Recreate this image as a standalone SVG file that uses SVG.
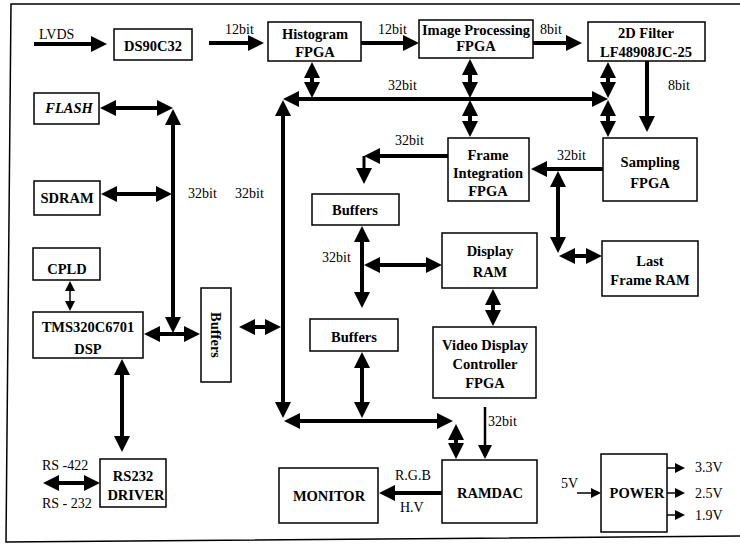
<svg xmlns="http://www.w3.org/2000/svg" width="740" height="547" viewBox="0 0 740 547">
<style>
.box{fill:#fff;stroke:#000;stroke-width:1.5}
.t{font-family:"Liberation Serif","Times New Roman",serif;font-weight:bold;font-size:14.5px;text-anchor:middle;fill:#000}
.l{font-family:"Liberation Serif","Times New Roman",serif;font-size:14px;fill:#000}
.w{fill:none;stroke:#000;stroke-width:4}
.md{fill:none;stroke:#000;stroke-width:2.5}
.th{fill:none;stroke:#000;stroke-width:1.5}
.b1{marker-end:url(#a)}
.b2{marker-start:url(#a);marker-end:url(#a)}
</style>
<defs>
<marker id="a" viewBox="0 0 16 16" refX="12" refY="8" markerWidth="16" markerHeight="16" markerUnits="userSpaceOnUse" orient="auto-start-reverse"><path d="M0,0 L16,8 L0,16 z" fill="#000"/></marker>
<marker id="m" viewBox="0 0 14 14" refX="11" refY="7" markerWidth="14" markerHeight="14" markerUnits="userSpaceOnUse" orient="auto-start-reverse"><path d="M0,0 L14,7 L0,14 z" fill="#000"/></marker>
<marker id="s" viewBox="0 0 10 10" refX="8" refY="5" markerWidth="10" markerHeight="10" markerUnits="userSpaceOnUse" orient="auto-start-reverse"><path d="M0,0 L10,5 L0,10 z" fill="#000"/></marker>
</defs>
<rect width="740" height="547" fill="#fff"/>
<path d="M740,4 H11 L6,542 L740,536" fill="none" stroke="#000" stroke-width="1.5"/>

<g id="connectors">
<path class="w b1" d="M34,44 H103"/>
<path class="w b1" d="M209,43 H260"/>
<path class="w b1" d="M361,43 H415"/>
<path class="w b1" d="M533,43 H578"/>
<path class="w b1" d="M647,61 V128"/>
<path class="w b2" d="M287,99 H604"/>
<path class="w b2" d="M283,104 V414"/>
<path class="w b2" d="M288,421 H449"/>
<path class="w b2" d="M312,66 V94"/>
<path class="w b2" d="M470,63 V94"/>
<path class="w b2" d="M470,104 V133"/>
<path class="w b2" d="M608,66 V94"/>
<path class="w b2" d="M608,104 V133"/>
<path class="w b1" d="M603,169 H535"/>
<path class="w b2" d="M558,175 V249"/>
<path class="w b2" d="M563,256 H598"/>
<path class="w b1" d="M448,156 H368"/>
<path class="b1" d="M364,156 V180" fill="none" stroke="#000" stroke-width="3"/>
<path class="w b2" d="M362,230 V304"/>
<path class="w b2" d="M368,265 H438"/>
<path class="w b2" d="M362,356 V414"/>
<path class="w b2" d="M456,428 V455"/>
<path class="w b2" d="M493,293 V322"/>
<path class="w b1" d="M442,493 H383"/>
<path class="w b2" d="M104,108 H169"/>
<path class="w b2" d="M173,113 V329"/>
<path class="w b2" d="M105,194 H168"/>
<path class="w b2" d="M148,334 H196"/>
<path class="w b2" d="M243,327 H277"/>
<path class="w b2" d="M122,363 V448"/>
<path class="w b2" d="M47,483 H96"/>
<path class="md" d="M485,407 V456" marker-end="url(#m)"/>
<path class="th" d="M70,283 V309" marker-start="url(#s)" marker-end="url(#s)"/>
<path class="th" d="M577,493 H599" marker-end="url(#s)"/>
<path class="th" d="M667,468 H683" marker-end="url(#s)"/>
<path class="th" d="M667,493 H683" marker-end="url(#s)"/>
<path class="th" d="M667,515 H683" marker-end="url(#s)"/>
<text class="l" x="39" y="39">LVDS</text>
<text class="l" x="225" y="34">12bit</text>
<text class="l" x="378" y="34">12bit</text>
<text class="l" x="540" y="34">8bit</text>
<text class="l" x="388" y="90">32bit</text>
<text class="l" x="668" y="90">8bit</text>
<text class="l" x="395" y="145">32bit</text>
<text class="l" x="557" y="160">32bit</text>
<text class="l" x="188" y="198">32bit</text>
<text class="l" x="235" y="198">32bit</text>
<text class="l" x="322" y="262">32bit</text>
<text class="l" x="488" y="426">32bit</text>
<text class="l" x="395" y="480">R.G.B</text>
<text class="l" x="400" y="512">H.V</text>
<text class="l" x="561" y="488">5V</text>
<text class="l" x="695" y="472">3.3V</text>
<text class="l" x="695" y="498">2.5V</text>
<text class="l" x="695" y="520">1.9V</text>
<text class="l" x="42" y="470">RS -422</text>
<text class="l" x="42" y="508">RS - 232</text>
</g>

<g id="ds90c32"><rect class="box" x="114" y="29" width="78" height="31"/><text class="t" x="153" y="51">DS90C32</text></g>
<g id="histogram"><rect class="box" x="268" y="22" width="93" height="39"/><text class="t" x="315" y="39">Histogram</text><text class="t" x="315" y="57">FPGA</text></g>
<g id="imageproc"><rect class="box" x="419" y="20" width="114" height="38"/><text class="t" x="476" y="35">Image Processing</text><text class="t" x="476" y="51">FPGA</text></g>
<g id="filter2d"><rect class="box" x="588" y="22" width="117" height="39"/><text class="t" x="646" y="38">2D Filter</text><text class="t" x="646" y="57">LF48908JC-25</text></g>
<g id="frameint"><rect class="box" x="448" y="138" width="81" height="63"/><text class="t" x="488" y="160">Frame</text><text class="t" x="488" y="178">Integration</text><text class="t" x="488" y="196">FPGA</text></g>
<g id="sampling"><rect class="box" x="603" y="138" width="94" height="63"/><text class="t" x="650" y="167">Sampling</text><text class="t" x="650" y="188">FPGA</text></g>
<g id="lastframe"><rect class="box" x="602" y="241" width="96" height="55"/><text class="t" x="650" y="266">Last</text><text class="t" x="650" y="285">Frame RAM</text></g>
<g id="displayram"><rect class="box" x="442" y="233" width="95" height="55"/><text class="t" x="490" y="256">Display</text><text class="t" x="490" y="277">RAM</text></g>
<g id="buffers1"><rect class="box" x="312" y="194" width="87" height="31"/><text class="t" x="355" y="215">Buffers</text></g>
<g id="buffers2"><rect class="box" x="310" y="319" width="88" height="32"/><text class="t" x="354" y="342">Buffers</text></g>
<g id="video"><rect class="box" x="433" y="327" width="103" height="71"/><text class="t" x="485" y="350">Video Display</text><text class="t" x="485" y="369">Controller</text><text class="t" x="485" y="388">FPGA</text></g>
<g id="ramdac"><rect class="box" x="442" y="460" width="95" height="63"/><text class="t" x="490" y="498">RAMDAC</text></g>
<g id="monitor"><rect class="box" x="279" y="468" width="99" height="55"/><text class="t" x="329" y="501">MONITOR</text></g>
<g id="power"><rect class="box" x="601" y="454" width="66" height="78"/><text class="t" x="637" y="498">POWER</text></g>
<g id="rs232"><rect class="box" x="100" y="459" width="66" height="48"/><text class="t" x="133" y="481">RS232</text><text class="t" x="136" y="500">DRIVER</text></g>
<g id="dsp"><rect class="box" x="33" y="312" width="110" height="46"/><text class="t" x="88" y="332">TMS320C6701</text><text class="t" x="88" y="354">DSP</text></g>
<g id="cpld"><rect class="box" x="33" y="248" width="67" height="32"/><text class="t" x="67" y="274">CPLD</text></g>
<g id="sdram"><rect class="box" x="34" y="181" width="66" height="34"/><text class="t" x="67" y="203">SDRAM</text></g>
<g id="flash"><rect class="box" x="34" y="93" width="65" height="31"/><text class="t" x="69" y="113" font-style="italic">FLASH</text></g>
<g id="buffers3"><rect class="box" x="201" y="288" width="30" height="94"/><text class="t" transform="translate(211,335) rotate(90)">Buffers</text></g>
</svg>
